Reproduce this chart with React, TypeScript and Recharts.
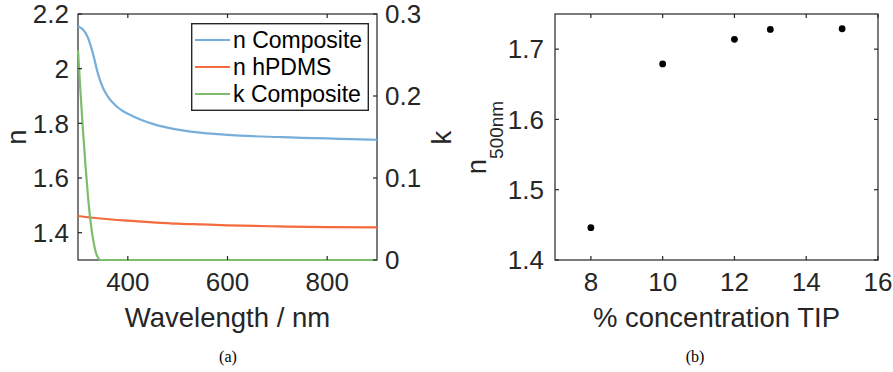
import React from 'react';
import { LineChart, Line, XAxis, YAxis, ScatterChart, Scatter, Legend } from 'recharts';

const FONT = '"Liberation Sans", Arial, Helvetica, sans-serif';
const SERIF = '"Liberation Serif", "Times New Roman", serif';
const INK = '#262626';

// (a) optical constants vs wavelength
const nCompositeWl = [300, 310, 320, 330, 340, 350, 360, 370, 380, 390, 400, 425, 450, 475, 500, 550, 600, 650, 700, 750, 800, 850, 900];
const nCompositeVal = [2.155, 2.143, 2.113, 2.055, 1.982, 1.93, 1.898, 1.875, 1.858, 1.845, 1.835, 1.814, 1.798, 1.786, 1.777, 1.765, 1.758, 1.753, 1.75, 1.747, 1.745, 1.742, 1.74];
const nHpdmsWl = [300, 350, 400, 450, 500, 550, 600, 700, 800, 900];
const nHpdmsVal = [1.461, 1.451, 1.444, 1.438, 1.433, 1.43, 1.427, 1.423, 1.42, 1.419];
const kCompositeWl = [300, 305, 310, 315, 320, 325, 330, 335, 340, 345, 400, 500, 600, 700, 800, 900];
const kCompositeVal = [0.256, 0.205, 0.158, 0.115, 0.078, 0.048, 0.026, 0.011, 0.003, 0, 0, 0, 0, 0, 0, 0];

const wavelengthDomain = [300, 900];
const nDomain = [1.3, 2.2];
const kDomain = [0, 0.3];
const wavelengthTicks = [400, 600, 800];
const nTicks = [1.4, 1.6, 1.8, 2, 2.2];
const kTicks = [0, 0.1, 0.2, 0.3];

// (b) n at 500 nm vs TIP concentration
const tipConcentration = [8, 10, 12, 13, 15];
const n500 = [1.446, 1.679, 1.714, 1.728, 1.729];
const concDomain = [7, 16];
const n500Domain = [1.4, 1.75];
const concTicks = [8, 10, 12, 14, 16];
const n500Ticks = [1.4, 1.5, 1.6, 1.7];

const zip = (xs: number[], ys: number[]) => xs.map((x, i) => ({ x, y: ys[i] }));

const series = [
  { name: 'n Composite', color: '#77AEDA', axis: 'n', data: zip(nCompositeWl, nCompositeVal) },
  { name: 'n hPDMS', color: '#F36B3E', axis: 'n', data: zip(nHpdmsWl, nHpdmsVal) },
  { name: 'k Composite', color: '#7DBE6E', axis: 'k', data: zip(kCompositeWl, kCompositeVal) },
];
const scatterData = zip(tipConcentration, n500);

// plot boxes in each chart's own pixel coords (follow from the margins / axis sizes below)
type Box = { left: number; right: number; top: number; bottom: number };
const BOX_A: Box = { left: 78, right: 377, top: 14, bottom: 260 };
const BOX_B: Box = { left: 115, right: 438, top: 14, bottom: 260 };
const B_OFFSET = 440;
const TICK = 4; // inward tick length

const fmt = (v: number) => String(v);

// tick label + inward tick marks (bottom and top) for x axes
const makeXTick = (box: Box) => (props: any) => {
  const { x, y, payload } = props;
  return (
    <g>
      <line x1={x} x2={x} y1={box.bottom} y2={box.bottom - TICK} stroke={INK} strokeWidth={1.2} />
      <line x1={x} x2={x} y1={box.top} y2={box.top + TICK} stroke={INK} strokeWidth={1.2} />
      <text x={x} y={y} dy="0.71em" textAnchor="middle" fontSize={26} fontFamily={FONT} fill={INK}>
        {fmt(payload.value)}
      </text>
    </g>
  );
};

// tick label + inward tick marks on the given sides for y axes
const makeYTick = (box: Box, sides: Array<'left' | 'right'>, anchor: 'start' | 'end') => (props: any) => {
  const { x, y, payload } = props;
  return (
    <g>
      {sides.includes('left') && <line x1={box.left} x2={box.left + TICK} y1={y} y2={y} stroke={INK} strokeWidth={1.2} />}
      {sides.includes('right') && <line x1={box.right} x2={box.right - TICK} y1={y} y2={y} stroke={INK} strokeWidth={1.2} />}
      <text x={x} y={y} dy="0.355em" textAnchor={anchor} fontSize={26} fontFamily={FONT} fill={INK}>
        {fmt(payload.value)}
      </text>
    </g>
  );
};

const LegendBox = () => (
  <svg width={178} height={88} style={{ display: 'block' }}>
    <rect x={0.7} y={0.7} width={176.6} height={86.6} fill="#fff" stroke={INK} strokeWidth={1.4} />
    {series.map((s, i) => (
      <g key={s.name}>
        <line x1={4} x2={39} y1={17 + i * 27} y2={17 + i * 27} stroke={s.color} strokeWidth={2.2} />
        <text x={42} y={17 + i * 27} dominantBaseline="central" fontSize={23} fontFamily={FONT} fill="#000">
          {s.name}
        </text>
      </g>
    ))}
  </svg>
);

// axes boxes, titles and captions; sits under the charts so the curves stay on top
const Backdrop = () => (
  <svg width={893} height={372} style={{ position: 'absolute', left: 0, top: 0 }}>
    <rect x={BOX_A.left} y={BOX_A.top} width={BOX_A.right - BOX_A.left} height={BOX_A.bottom - BOX_A.top}
      fill="none" stroke={INK} strokeWidth={1.2} />
    <rect x={B_OFFSET + BOX_B.left} y={BOX_B.top} width={BOX_B.right - BOX_B.left} height={BOX_B.bottom - BOX_B.top}
      fill="none" stroke={INK} strokeWidth={1.2} />
    <g fontFamily={FONT} fontSize={27.5} fill={INK}>
      <text x={25.5} y={137} transform="rotate(-90 25.5 137)" textAnchor="middle">n</text>
      <text x={451} y={137.5} transform="rotate(-90 451 137.5)" textAnchor="middle">k</text>
      <text x={227.5} y={326.5} textAnchor="middle">Wavelength / nm</text>
      <text x={486} y={137.5} transform="rotate(-90 486 137.5)" textAnchor="middle">
        n<tspan fontSize={19} dy={17}>500nm</tspan>
      </text>
      <text x={716.5} y={326.5} textAnchor="middle">% concentration TIP</text>
    </g>
    <g fontFamily={SERIF} fontSize={16} fill="#000">
      <text x={228} y={362} textAnchor="middle">(a)</text>
      <text x={695} y={362} textAnchor="middle">(b)</text>
    </g>
  </svg>
);

const Dot = (props: any) => <circle cx={props.cx} cy={props.cy} r={3.4} fill="#000" />;

export default function App() {
  return (
    <div style={{ position: 'absolute', left: 0, top: 0, width: 893, height: 372, background: '#fff' }}>
      <Backdrop />
      <div style={{ position: 'absolute', left: 0, top: 0 }}>
        <LineChart width={460} height={372} margin={{ top: 14, right: 20, bottom: 32, left: 0 }}>
          <XAxis xAxisId="b" type="number" dataKey="x" domain={wavelengthDomain} ticks={wavelengthTicks}
            height={80} tickSize={0} tickMargin={13} axisLine={false} tickLine={false} tick={makeXTick(BOX_A)} />
          <YAxis yAxisId="n" type="number" dataKey="y" domain={nDomain} ticks={nTicks}
            width={78} tickSize={0} tickMargin={9} axisLine={false} tickLine={false}
            tick={makeYTick(BOX_A, ['left'], 'end')} />
          <YAxis yAxisId="k" orientation="right" type="number" dataKey="y" domain={kDomain} ticks={kTicks}
            width={63} tickSize={0} tickMargin={8} axisLine={false} tickLine={false}
            tick={makeYTick(BOX_A, ['right'], 'start')} />
          <Legend layout="vertical" align="center" verticalAlign="middle"
            wrapperStyle={{ left: 191, top: 23, width: 178, height: 88 }} content={() => <LegendBox />} />
          {series.map((s) => (
            <Line key={s.name} name={s.name} xAxisId="b" yAxisId={s.axis} data={s.data} dataKey="y" type="monotone"
              stroke={s.color} strokeWidth={2.2} dot={false} activeDot={false} isAnimationActive={false} />
          ))}
        </LineChart>
      </div>
      <div style={{ position: 'absolute', left: B_OFFSET, top: 0 }}>
        <ScatterChart width={453} height={372} margin={{ top: 14, right: 15, bottom: 32, left: 0 }}>
          <XAxis xAxisId="b" type="number" dataKey="x" domain={concDomain} ticks={concTicks}
            height={80} tickSize={0} tickMargin={13} axisLine={false} tickLine={false} tick={makeXTick(BOX_B)} />
          <YAxis yAxisId="l" type="number" dataKey="y" domain={n500Domain} ticks={n500Ticks}
            width={115} tickSize={0} tickMargin={11} axisLine={false} tickLine={false}
            tick={makeYTick(BOX_B, ['left', 'right'], 'end')} />
          <Scatter xAxisId="b" yAxisId="l" data={scatterData} dataKey="y" shape={Dot} isAnimationActive={false} />
        </ScatterChart>
      </div>
    </div>
  );
}
